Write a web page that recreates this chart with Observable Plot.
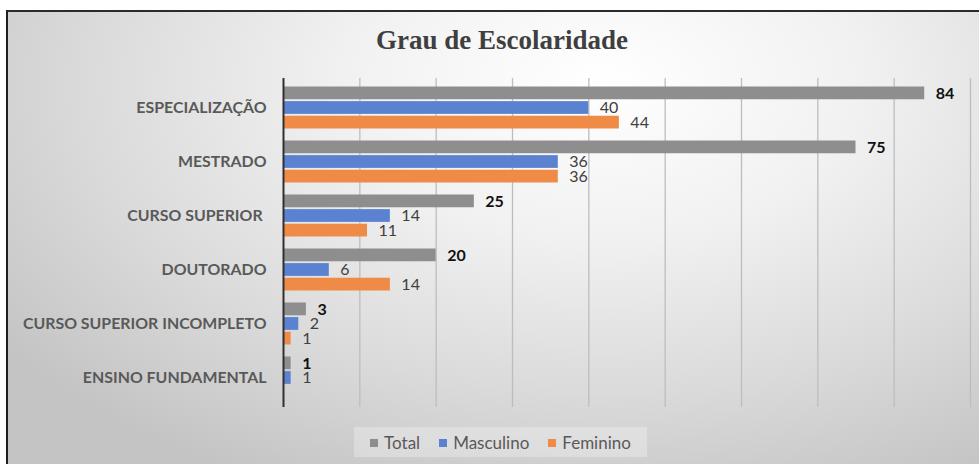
<!DOCTYPE html>
<html>
<head>
<meta charset="utf-8">
<script src="https://cdn.jsdelivr.net/npm/d3@7"></script>
<script src="https://cdn.jsdelivr.net/npm/@observablehq/plot@0.6"></script>
<style>
  body { margin: 0; background: #fff; }
  #wrap { position: relative; width: 979px; height: 464px; overflow: hidden; }
  #bg { position: absolute; left: 6px; top: 10px; width: 990px; height: 470px;
        border-top: 2px solid #2b2b2b; border-left: 2px solid #1e1e1e;
        background: radial-gradient(ellipse 75% 95% at 60% 15%, #ffffff 0%, #f1f1f1 35%, #dadada 70%, #c4c4c4 100%); }
  #title { position: absolute; top: 25px; left: 0; width: 1004px; text-align: center;
           font-family: "Liberation Serif", "Times New Roman", serif; font-weight: bold;
           font-size: 27px; color: #3f3f3f; }
  #chart { position: absolute; left: 0; top: 0; }
  #legend { position: absolute; left: 354px; top: 427px; width: 293px; height: 30px;
            background: rgba(255,255,255,0.28); display: flex; align-items: center; justify-content: center;
            font-family: Lato, sans-serif; font-size: 17px; color: #595959; gap: 19px; }
  #legend span.sw { display: inline-block; width: 8px; height: 8px; margin-right: 6px; vertical-align: 2px; }
</style>
</head>
<body>
<div id="wrap">
  <div id="bg"></div>
  <div id="title">Grau de Escolaridade</div>
  <div id="chart"></div>
  <div id="legend"></div>
</div>
<script>
const categories = ["ESPECIALIZAÇÃO", "MESTRADO", "CURSO SUPERIOR ", "DOUTORADO", "CURSO SUPERIOR INCOMPLETO", "ENSINO FUNDAMENTAL"];
const series = ["Total", "Masculino", "Feminino"];
const total = [84, 75, 25, 20, 3, 1];
const masculino = [40, 36, 14, 6, 2, 1];
const feminino = [44, 36, 11, 14, 1, 0];
const colors = ["#8e8e8e", "#5b82d0", "#ef8b47"];
const xTicks = [10, 20, 30, 40, 50, 60, 70, 80, 90];

const values = [total, masculino, feminino];
const rows = [];
categories.forEach((c, i) => series.forEach((s, j) => rows.push({category: c, series: s, value: values[j][i]})));

const W = 979, H = 420, MT = 78, MB = 13, ML = 283, MR = 9;
const step = (H - MT - MB) / categories.length;  // paddingInner 0.2, paddingOuter 0.1
const bw = step * 0.8;
const third = bw / 3;

const marks = [
  Plot.ruleX(xTicks, {stroke: "#bdbdbd", strokeWidth: 1.3})
];
series.forEach((s, j) => {
  const data = rows.filter(d => d.series === s);
  marks.push(Plot.barX(data, {
    x: "value", y: "category", fill: colors[j],
    insetTop: j * third + 0.5, insetBottom: (2 - j) * third + 0.5
  }));
  marks.push(Plot.text(data.filter(d => d.value > 0), {
    x: "value", y: "category", text: d => String(d.value),
    dx: 11, dy: (j - 1) * third, textAnchor: "start",
    fill: j === 0 ? "#111" : "#404040",
    fontWeight: j === 0 ? "bold" : "normal",
    fontSize: 16
  }));
});
marks.push(Plot.ruleX([0], {stroke: "#303030", strokeWidth: 2}));
marks.push(Plot.axisY({tickSize: 0, tickPadding: 17, fontSize: 15.9, fontWeight: "bold", fill: "#595959", label: null}));

const chart = Plot.plot({
  width: W, height: H,
  marginTop: MT, marginBottom: MB, marginLeft: ML, marginRight: MR,
  style: {background: "transparent", fontFamily: "Lato, sans-serif", overflow: "visible"},
  x: {domain: [0, 90], axis: null},
  y: {domain: categories, paddingInner: 0.2, paddingOuter: 0.1, label: null},
  marks
});
document.getElementById("chart").appendChild(chart);

const legend = document.getElementById("legend");
series.forEach((s, j) => {
  const item = document.createElement("div");
  item.innerHTML = `<span class="sw" style="background:${colors[j]}"></span>${s}`;
  legend.appendChild(item);
});
</script>
</body>
</html>
